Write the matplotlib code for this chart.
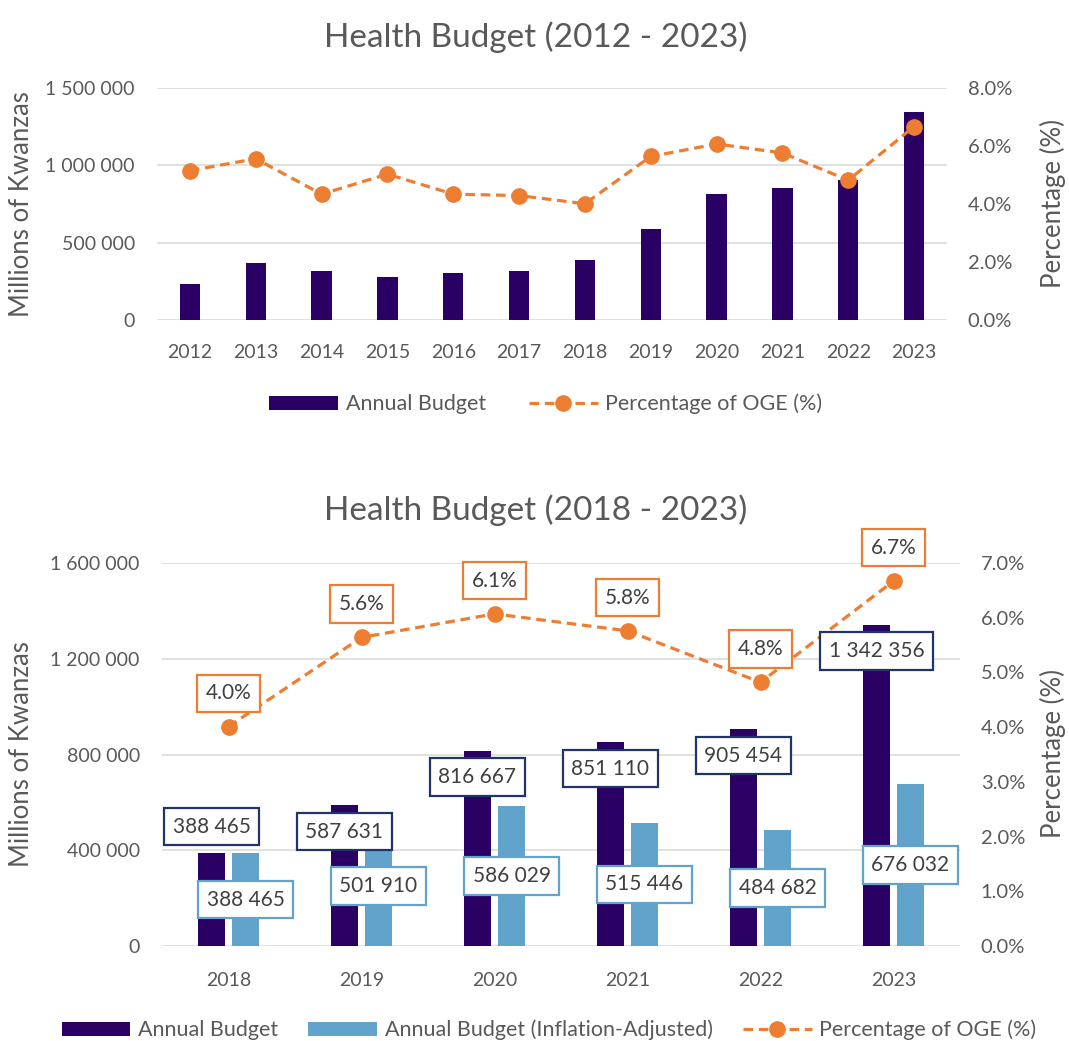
import matplotlib
matplotlib.use("Agg")
import matplotlib.pyplot as plt
import numpy as np
from matplotlib.ticker import FuncFormatter, MultipleLocator
from matplotlib.patches import Patch
from matplotlib.lines import Line2D

plt.rcParams['font.family'] = ['Lato', 'DejaVu Sans']

# ---------------- data ----------------
years_all = ['2012', '2013', '2014', '2015', '2016', '2017', '2018', '2019', '2020', '2021', '2022', '2023']
budget_all = [231000, 366000, 315000, 276000, 302000, 315000, 388465, 587631, 816667, 851110, 905454, 1342356]
pct_all = [5.15, 5.56, 4.34, 5.03, 4.34, 4.29, 4.01, 5.64, 6.07, 5.76, 4.82, 6.67]

years_recent = ['2018', '2019', '2020', '2021', '2022', '2023']
budget_recent = [388465, 587631, 816667, 851110, 905454, 1342356]
budget_adjusted = [388465, 501910, 586029, 515446, 484682, 676032]
pct_recent = [4.01, 5.64, 6.07, 5.76, 4.82, 6.67]

# ---------------- style ----------------
DARK = '#2B0065'
LIGHT = '#62A3CC'
ORANGE = '#ED7D31'
NAVY = '#1F3468'
GREY = '#595959'
GRID = '#D9D9D9'
FS = 14
LFS = 15.5

def thousands(v, pos=None):
    return f"{int(round(v)):,}".replace(",", " ")

def pct_fmt(v, pos=None):
    return f"{v:.1f}%"

fig = plt.figure(figsize=(10.69, 10.41), dpi=100)

def style_axes(ax, ax2, xpad):
    for a in (ax, ax2):
        for s in a.spines.values():
            s.set_visible(False)
        a.tick_params(length=0, labelsize=FS, labelcolor=GREY)
    ax.tick_params(axis='y', pad=16)
    ax2.tick_params(axis='y', pad=15, labelsize=FS + 0.5)
    ax.tick_params(axis='x', pad=xpad)
    ax.grid(axis='y', color=GRID, lw=1.1)
    ax.set_axisbelow(True)
    ax.yaxis.set_major_formatter(FuncFormatter(thousands))
    ax2.yaxis.set_major_formatter(FuncFormatter(pct_fmt))

LINE_KW = dict(color=ORANGE, lw=2.3, ls=(0, (3, 1.8)), marker='o', ms=11)

# ---------------- top chart ----------------
ax = fig.add_axes([157/1069, 1-320/1041, 790/1069, 232/1041])
ax2 = ax.twinx()
x = np.arange(len(years_all))
ax.bar(x, budget_all, width=0.31, color=DARK, zorder=2)
ax2.plot(x, pct_all, zorder=3, **LINE_KW)
ax.set_xlim(-0.5, len(years_all)-0.5)
ax.set_ylim(0, 1500000)
ax.yaxis.set_major_locator(MultipleLocator(500000))
ax2.set_ylim(0, 8)
ax2.yaxis.set_major_locator(MultipleLocator(2))
ax.set_xticks(x)
ax.set_xticklabels(years_all)
style_axes(ax, ax2, 17.5)

fig.text(536/1069, 1-37/1041, 'Health Budget (2012 - 2023)', ha='center', va='center', fontsize=24, color=GREY)
fig.text(22/1069, 1-204/1041, 'Millions of Kwanzas', rotation=90, ha='center', va='center', fontsize=18.5, color=GREY)
fig.text(1053/1069, 1-204/1041, 'Percentage (%)', rotation=90, ha='center', va='center', fontsize=18.5, color=GREY)

h1 = [Patch(facecolor=DARK, edgecolor='none'), Line2D([0], [0], **LINE_KW)]
leg = fig.legend(h1, ['Annual Budget', 'Percentage of OGE (%)'], loc='center',
                 bbox_to_anchor=(546/1069, 1-404/1041), ncol=2, frameon=False,
                 fontsize=LFS, handlelength=3.2, handletextpad=0.35, columnspacing=2.0,
                 handleheight=0.65, borderpad=0)
for t in leg.get_texts():
    t.set_color(GREY)

# ---------------- bottom chart ----------------
bx = fig.add_axes([162/1069, 1-946/1041, 798/1069, 383/1041])
bx2 = bx.twinx()
xr = np.arange(len(years_recent))
w = 0.21
off = 0.128
bx.bar(xr - off, budget_recent, width=w, color=DARK, zorder=2)
bx.bar(xr + off, budget_adjusted, width=w, color=LIGHT, zorder=2)
bx2.plot(xr, pct_recent, zorder=3, **LINE_KW)
bx.set_xlim(-0.5, len(years_recent)-0.5)
bx.set_ylim(0, 1600000)
bx.yaxis.set_major_locator(MultipleLocator(400000))
bx2.set_ylim(0, 7)
bx2.yaxis.set_major_locator(MultipleLocator(1))
bx.set_xticks(xr)
bx.set_xticklabels(years_recent)
style_axes(bx, bx2, 19)

def box(ec):
    return dict(boxstyle='square,pad=0.42', fc='white', ec=ec, lw=1.6)

LBL = 15
for i, v in enumerate(budget_recent):
    dy = 19 if i == 0 else -19
    bx2.annotate(thousands(v), xy=(xr[i] - off, v), xycoords=bx.transData,
                 xytext=(0, dy), textcoords='offset points', ha='center', va='center',
                 fontsize=LBL, color='#404040', bbox=box(NAVY), zorder=5)
for i, v in enumerate(budget_adjusted):
    bx2.annotate(thousands(v), xy=(xr[i] + off, v / 2), xycoords=bx.transData,
                 ha='center', va='center',
                 fontsize=LBL, color='#404040', bbox=box(LIGHT), zorder=5)
for i, v in enumerate(pct_recent):
    bx2.annotate(f"{v:.1f}%", xy=(xr[i], v), xytext=(0, 24), textcoords='offset points',
                 ha='center', va='center', fontsize=LBL, color='#404040', bbox=box(ORANGE), zorder=5)

fig.text(536/1069, 1-510/1041, 'Health Budget (2018 - 2023)', ha='center', va='center', fontsize=24, color=GREY)
fig.text(22/1069, 1-754/1041, 'Millions of Kwanzas', rotation=90, ha='center', va='center', fontsize=18.5, color=GREY)
fig.text(1053/1069, 1-754/1041, 'Percentage (%)', rotation=90, ha='center', va='center', fontsize=18.5, color=GREY)

h2 = [Patch(facecolor=DARK, edgecolor='none'),
      Patch(facecolor=LIGHT, edgecolor='none'),
      Line2D([0], [0], **LINE_KW)]
leg2 = fig.legend(h2, ['Annual Budget', 'Annual Budget (Inflation-Adjusted)', 'Percentage of OGE (%)'],
                  loc='center', bbox_to_anchor=(549/1069, 1-1030/1041), ncol=3, frameon=False,
                  fontsize=LFS, handlelength=3.2, handletextpad=0.35, columnspacing=1.4,
                  handleheight=0.65, borderpad=0)
for t in leg2.get_texts():
    t.set_color(GREY)

fig.savefig('out.png', dpi=100)
